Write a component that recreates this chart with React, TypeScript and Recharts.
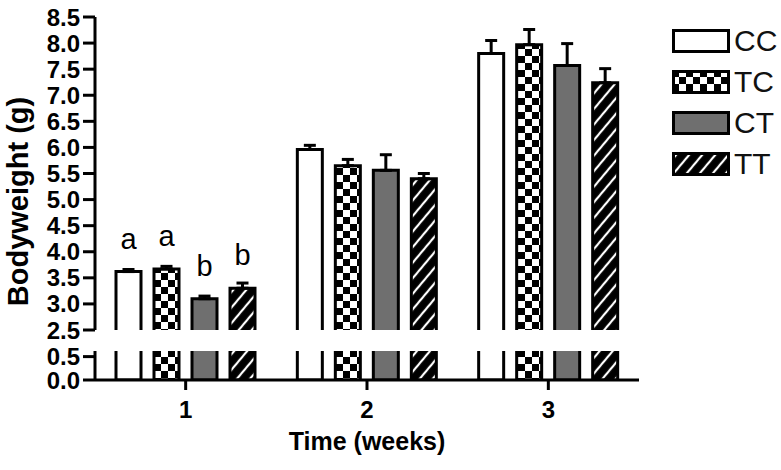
import React from 'react';
import { BarChart, Bar, XAxis, YAxis, ErrorBar, LabelList, Legend, Label } from 'recharts';

// values (bodyweight in g, mean and +SEM)
const weeks = ['1', '2', '3'];
const seriesNames = ['CC', 'TC', 'CT', 'TT'];
const ccMean = [3.62, 5.96, 7.8];
const tcMean = [3.67, 5.65, 7.97];
const ctMean = [3.1, 5.56, 7.57];
const ttMean = [3.3, 5.4, 7.24];
const ccErr = [0.04, 0.08, 0.25];
const tcErr = [0.05, 0.12, 0.29];
const ctErr = [0.05, 0.3, 0.42];
const ttErr = [0.1, 0.1, 0.27];
const ccLetters = ['a', '', ''];
const tcLetters = ['a', '', ''];
const ctLetters = ['b', '', ''];
const ttLetters = ['b', '', ''];
const upperTicks = [2.5, 3, 3.5, 4, 4.5, 5, 5.5, 6, 6.5, 7, 7.5, 8, 8.5];
const lowerTicks = [0, 0.5];

const means = [ccMean, tcMean, ctMean, ttMean];
const errs = [ccErr, tcErr, ctErr, ttErr];
const letters = [ccLetters, tcLetters, ctLetters, ttLetters];

// ranged bars [0, mean] so the broken axis clips them instead of closing them
const rows = weeks.map((w, i) => {
  const row: any = { week: w };
  seriesNames.forEach((s, k) => {
    row[s] = [0, means[k][i]];
    row[s + 'err'] = [0, errs[k][i]];
    row[s + 'letter'] = letters[k][i];
  });
  return row;
});

const fills: Record<string, string> = {
  CC: '#ffffff',
  TC: 'url(#checker)',
  CT: '#6f6f6f',
  TT: 'url(#hatch)'
};

const font = 'Arial, "Liberation Sans", sans-serif';
const axisStroke = { stroke: '#000', strokeWidth: 3 };
const tickFont = { fill: '#000', fontSize: 24, fontWeight: 'bold' as const, fontFamily: font };
const margins = { left: 0, right: 142 };

const renderLegend = (props: any) => {
  const payload = [...(props.payload || [])].sort(
    (a: any, b: any) => seriesNames.indexOf(a.value) - seriesNames.indexOf(b.value)
  );
  return (
    <div>
      {payload.map((p: any) => (
        <div key={p.value} style={{ display: 'flex', alignItems: 'center', height: 41 }}>
          <svg width={58} height={24}>
            <rect x={1.5} y={1.5} width={55} height={21} fill={fills[p.value]} stroke="#000" strokeWidth={3} />
          </svg>
          <span style={{ fontSize: 30, marginLeft: 4, lineHeight: '30px', color: '#111' }}>{p.value}</span>
        </div>
      ))}
    </div>
  );
};

const YTitle = (props: any) => {
  const vb = props.viewBox;
  const cx = 18;
  const cy = vb.y + vb.height / 2 + 28;
  return (
    <text
      x={cx}
      y={cy}
      transform={`rotate(-90, ${cx}, ${cy})`}
      textAnchor="middle"
      dominantBaseline="central"
      fontSize={29}
      fontWeight="bold"
      fill="#000"
    >
      Bodyweight (g)
    </text>
  );
};

export default function App() {
  return (
    <div style={{ position: 'absolute', left: 0, top: 0, width: 781, height: 470, background: '#fff', fontFamily: font }}>
      <svg width={0} height={0} style={{ position: 'absolute' }}>
        <defs>
          <pattern id="checker" width={14} height={14} patternUnits="userSpaceOnUse">
            <rect width={14} height={14} fill="#fff" />
            <rect width={7} height={7} fill="#000" />
            <rect x={7} y={7} width={7} height={7} fill="#000" />
          </pattern>
          <pattern id="hatch" width={10} height={10} patternUnits="userSpaceOnUse" patternTransform="rotate(40)">
            <rect width={10} height={10} fill="#000" />
            <line x1={5} y1={0} x2={5} y2={10} stroke="#fff" strokeWidth={2.2} />
          </pattern>
        </defs>
      </svg>

      {/* lower segment 0 - 0.5 with the category axis */}
      <div style={{ position: 'absolute', left: 0, top: 0 }}>
        <BarChart width={781} height={470} data={rows} margin={{ top: 351, bottom: 0, ...margins }} barSize={25} barGap={13}>
          <XAxis
            dataKey="week"
            height={90}
            tick={tickFont}
            tickSize={10}
            tickMargin={11}
            axisLine={axisStroke}
            tickLine={axisStroke}
          >
            <Label value="Time (weeks)" position="insideBottom" offset={20} fill="#000" fontSize={25} fontWeight="bold" />
          </XAxis>
          <YAxis
            width={95}
            type="number"
            domain={[0, 0.62]}
            allowDataOverflow
            ticks={lowerTicks}
            interval={0}
            tickFormatter={(v: number) => v.toFixed(1)}
            tick={tickFont}
            tickSize={12}
            tickMargin={3}
            axisLine={axisStroke}
            tickLine={axisStroke}
          />
          {seriesNames.map((s) => (
            <Bar key={s} dataKey={s} name={s} fill={fills[s]} stroke="#000" strokeWidth={3} isAnimationActive={false} />
          ))}
        </BarChart>
      </div>

      {/* upper segment 2.5 - 8.5 */}
      <div style={{ position: 'absolute', left: 0, top: 0 }}>
        <BarChart width={781} height={350} data={rows} margin={{ top: 17, bottom: 20, ...margins }} barSize={25} barGap={13}>
          <XAxis dataKey="week" hide height={0} />
          <YAxis
            width={95}
            type="number"
            domain={[2.5, 8.5]}
            allowDataOverflow
            ticks={upperTicks}
            interval={0}
            tickFormatter={(v: number) => v.toFixed(1)}
            tick={tickFont}
            tickSize={12}
            tickMargin={3}
            axisLine={axisStroke}
            tickLine={axisStroke}
          >
            <Label content={<YTitle />} />
          </YAxis>
          <Legend
            layout="vertical"
            align="center"
            verticalAlign="middle"
            content={renderLegend}
            wrapperStyle={{ left: 672, top: 20, width: 109 }}
          />
          {seriesNames.map((s) => (
            <Bar key={s} dataKey={s} name={s} fill={fills[s]} stroke="#000" strokeWidth={3} isAnimationActive={false}>
              <ErrorBar dataKey={s + 'err'} direction="y" width={6} stroke="#000" strokeWidth={3} />
              <LabelList dataKey={s + 'letter'} position="top" offset={23} fill="#000" fontSize={29} fontFamily={font} />
            </Bar>
          ))}
        </BarChart>
      </div>
    </div>
  );
}
